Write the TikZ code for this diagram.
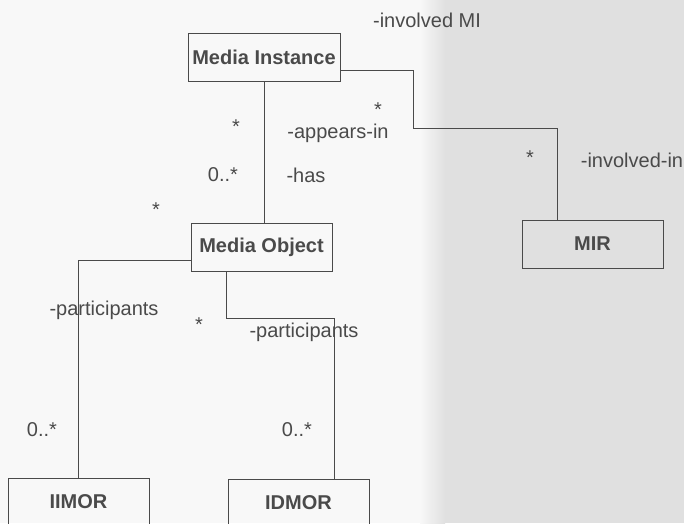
\documentclass[tikz,border=0pt]{standalone}
\usepackage{fontspec}
\setmainfont{Liberation Sans}
\usetikzlibrary{arrows.meta,calc}
\definecolor{ink}{HTML}{4A4A4A}
\definecolor{paper}{HTML}{F8F8F8}
\definecolor{shadow}{HTML}{E0E0E0}
\begin{document}
\begin{tikzpicture}[
		x=1pt, y=-1pt,
		font=\fontsize{20}{23}\selectfont,
		box/.style={rectangle, draw=ink, thick, text=ink, font=\fontsize{20}{23}\selectfont\bfseries, align=center, minimum width=141pt, minimum height=48pt, inner sep=0pt},
		role/.style={text=ink, inner sep=0pt},
		link/.style={draw=ink, thick}
		]
		
		\useasboundingbox (0,0) rectangle (684,523);
		\fill[paper] (0,0) rectangle (684,523);
		\shade[left color=paper, right color=shadow] (420,0) rectangle (445,523);
		\fill[shadow] (445,0) rectangle (684,523);
		
		\node (mi) at (264, 57) [box, minimum width=152pt] {Media Instance};
		\node (mo) at (261.5, 247.5) [box] {Media Object};
		\node (mir) at (592.5, 244) [box] {MIR};
		\node (iimor) at (78.5, 502) [box] {IIMOR};
		\node (idmor) at (298.5, 503) [box] {IDMOR};
		
		\draw [link] (mi.south) -- (mi.south |- mo.north);
		\draw [link] ([yshift=-13pt]mi.east) -| (413, 128) -| ([xshift=-35pt]mir.north);
		\draw [link] ([yshift=-12.5pt]mo.west) -| (iimor.north);
		\draw [link] ([xshift=-35.5pt]mo.south) -- ++(0, 46) -| ([xshift=36pt]idmor.north);
		
		\node (lmi) at (427, 20) [role] {-involved MI};
		\node (smi) at (378, 110) [role] {*};
		\node (lapp) at (338, 133) [role] {-appears-in};
		\node (sapp) at (236, 127) [role] {*};
		\node (mhas) at (223, 175) [role] {0..*};
		\node (lhas) at (306, 175) [role] {-has};
		\node (smo) at (156, 210) [role] {*};
		\node (smir) at (530, 158) [role] {*};
		\node (linv) at (632, 160) [role] {-involved-in};
		\node (lpa) at (104, 310) [role] {-participants};
		\node (spa) at (199, 325) [role] {*};
		\node (lpb) at (304, 332) [role] {-participants};
		\node (miim) at (42, 430) [role] {0..*};
		\node (midm) at (297, 430) [role] {0..*};
	\end{tikzpicture}
\end{document}
